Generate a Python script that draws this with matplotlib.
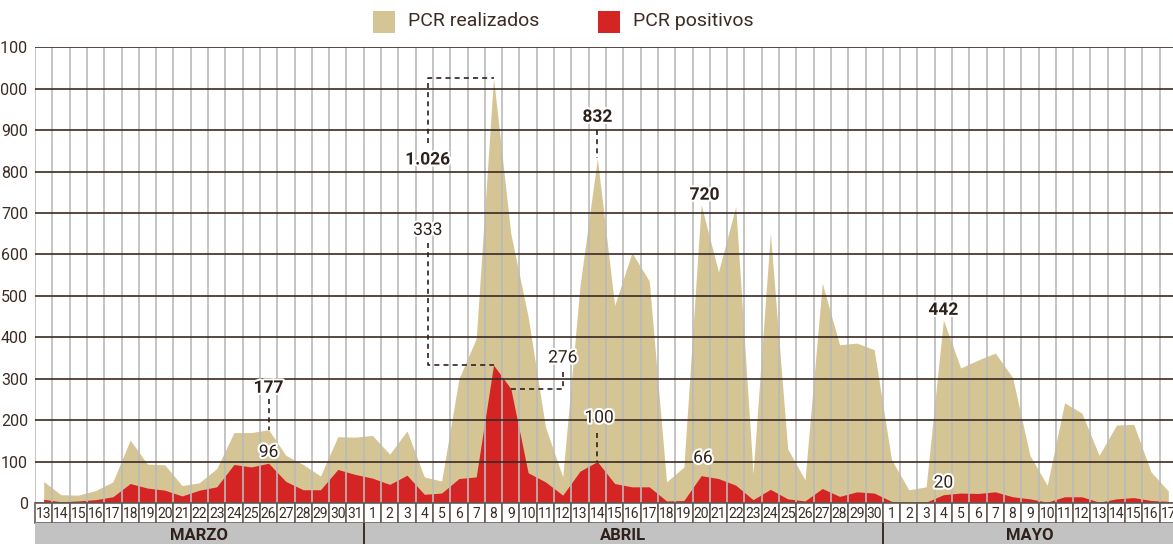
import matplotlib
matplotlib.use('Agg')
import matplotlib.pyplot as plt
import matplotlib.patheffects as pe
from matplotlib.patches import Rectangle

plt.rcParams['font.family'] = ['Roboto', 'DejaVu Sans']

# data: March 13 -> May 17
dias = list(range(13, 32)) + list(range(1, 31)) + list(range(1, 18))
meses = ['MARZO', 'ABRIL', 'MAYO']
dias_por_mes = [19, 30, 17]

realizados = [52, 20, 19, 30, 51, 152, 94, 92, 42, 49, 83, 170, 170, 177, 115, 93, 65, 160, 159,
              163, 118, 174, 63, 53, 300, 397, 1026, 650, 450, 184, 63, 525, 832, 477, 604, 536,
              51, 87, 720, 558, 716, 71, 652, 131, 56, 531, 382, 386, 370,
              105, 32, 39, 442, 326, 345, 362, 303, 115, 43, 242, 217, 115, 188, 190, 75, 29]
positivos = [9, 3, 5, 8, 15, 47, 36, 31, 17, 31, 39, 93, 87, 96, 52, 32, 32, 81, 69,
             60, 45, 67, 21, 24, 59, 63, 333, 276, 73, 51, 19, 77, 100, 47, 39, 39,
             5, 6, 66, 59, 43, 8, 33, 10, 5, 35, 16, 27, 24,
             4, 2, 2, 20, 24, 23, 27, 15, 10, 2, 15, 15, 2, 10, 13, 6, 4]

TAN = '#d6c594'
RED = '#d42424'
INK = '#2e211b'
TXT = '#3b2b24'
GRID_V = '#bababa'

n = len(dias)
x = list(range(n))

W, H = 1173, 544
fig = plt.figure(figsize=(W / 100, H / 100), dpi=100)

# main plot area (pixel layout of the reference)
ax = fig.add_axes([35 / W, (H - 503) / H, 1142 / W, (503 - 47.3) / H])
ax.set_xlim(-0.5, n - 0.5)
ax.set_ylim(0, 1100)

ax.fill_between(x, 0, realizados, color=TAN, lw=0, zorder=1)
ax.fill_between(x, 0, positivos, color=RED, lw=0, zorder=2)

# grid drawn over the areas
for i in range(n):
    ax.axvline(i - 0.5, color=GRID_V, lw=1.2, zorder=3)
for v in range(0, 1101, 100):
    ax.axhline(v, color='#3a2a22', lw=1.2, zorder=4)

for s in ax.spines.values():
    s.set_visible(False)
ax.set_xticks([])
yt = list(range(0, 1101, 100))
ax.set_yticks(yt)
ax.set_yticklabels([f'{v:,}'.replace(',', '.') for v in yt], fontsize=11.5, color=TXT)
ax.tick_params(axis='y', length=0, pad=5)

# annotations
halo = [pe.withStroke(linewidth=3, foreground='white')]
dash = dict(color=INK, lw=1.2, ls=(0, (3, 2.5)), zorder=6)


def label(xi, yv, txt, bold=False):
    ax.text(xi, yv, txt, ha='center', va='center', fontsize=12.5, color=INK,
            fontweight='bold' if bold else 'normal', path_effects=halo, zorder=7)


i177 = realizados.index(177)
label(i177, 277, '177', True)
ax.plot([i177, i177], [250, 177], **dash)
label(i177, 122, str(positivos[i177]))

i8 = realizados.index(1026)
label(22.2, 828, '1.026', True)
ax.plot([22.2, 22.2, i8], [869, 1026, 1026], **dash)
label(22.2, 658, '333')
ax.plot([22.2, 22.2, i8], [628, 333, 333], **dash)

i9 = positivos.index(276)
label(30.0, 350, '276')
ax.plot([30.0, 30.0, i9], [316, 276, 276], **dash)

i14 = realizados.index(832)
label(i14, 931, '832', True)
ax.plot([i14, i14], [900, 832], **dash)
label(i14 + 0.1, 205, '100')
ax.plot([i14, i14], [170, 100], **dash)

i20 = realizados.index(720)
label(i20 + 0.2, 743, '720', True)
label(i20 + 0.1, 108, '66')

i4 = realizados.index(442)
label(i4, 465, '442', True)
label(i4, 48, '20')

# day labels row
axd = fig.add_axes([35 / W, (H - 523) / H, 1142 / W, 20 / H])
axd.set_xlim(-0.5, n - 0.5)
axd.set_ylim(0, 1)
axd.axis('off')
for i, d in enumerate(dias):
    axd.add_patch(Rectangle((i - 0.5, 0.02), 1, 0.96, facecolor='white',
                            edgecolor='#6a5d56', lw=1.2, clip_on=False))
    axd.text(i, 0.47, str(d), ha='center', va='center', fontsize=10, color=TXT)

# month bar
axm = fig.add_axes([35 / W, 0, 1142 / W, 21 / H])
axm.set_xlim(-0.5, n - 0.5)
axm.set_ylim(0, 1)
axm.axis('off')
axm.add_patch(Rectangle((-0.5, 0), n, 1, facecolor='#c2c2c2', edgecolor='none'))
start = 0
for mes, k in zip(meses, dias_por_mes):
    axm.text(start + (k - 1) / 2, 0.42, mes, ha='center', va='center',
             fontsize=12, fontweight='bold', color=INK)
    if start > 0:
        axm.plot([start - 0.5, start - 0.5], [0, 1], color=INK, lw=1.3)
    start += k

# legend at top
fig.add_artist(Rectangle((373 / W, 1 - 33 / H), 22 / W, 22 / H, facecolor=TAN,
                         edgecolor='none', transform=fig.transFigure))
fig.text(408 / W, 1 - 21.5 / H, 'PCR realizados', ha='left', va='center',
         fontsize=14, color=TXT)
fig.add_artist(Rectangle((598 / W, 1 - 33 / H), 22 / W, 22 / H, facecolor=RED,
                         edgecolor='none', transform=fig.transFigure))
fig.text(633 / W, 1 - 21.5 / H, 'PCR positivos', ha='left', va='center',
         fontsize=14, color=TXT)

fig.savefig('out.png', dpi=100)
